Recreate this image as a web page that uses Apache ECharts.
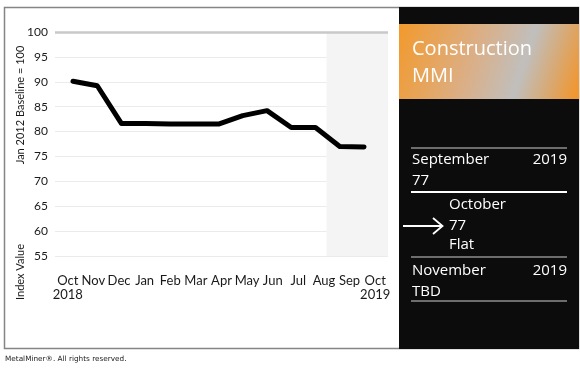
<!DOCTYPE html>
<html>
<head>
<meta charset="utf-8">
<script src="https://cdn.jsdelivr.net/npm/echarts@6/dist/echarts.min.js"></script>
<style>
html,body{margin:0;padding:0;background:#fff;}
#chart{width:580px;height:369px;}
</style>
</head>
<body>
<div id="chart"></div>
<script>
// ---- data ----
const months = ['Oct\n2018','Nov','Dec','Jan','Feb','Mar','Apr','May','Jun','Jul','Aug','Sep','Oct\n2019'];
const indexValues = [90.1, 89.2, 81.6, 81.6, 81.5, 81.5, 81.5, 83.2, 84.2, 80.8, 80.8, 77.0, 76.9];
const yMin = 55, yMax = 100, yStep = 5;
const baselineValue = 100;
const forecastStart = 10.6; // in month-band units
const yAxisTitles = ['Jan 2012 Baseline = 100', 'Index Value'];
const footerText = 'MetalMiner\u00AE. All rights reserved.';
const panelTitle = ['Construction', 'MMI'];
const prevMonth = ['September', '2019', '77'];
const curMonth = ['October', '77', 'Flat'];
const nextMonth = ['November', '2019', 'TBD'];

const chart = echarts.init(document.getElementById('chart'), null, {renderer: 'canvas'});
const white = '#ffffff';
const panelFont = '"Open Sans", sans-serif';
function ptext(x, y, t, align, size) {
  return {type: 'text', x: x, y: y, silent: true,
    style: {text: t, fill: white, font: (size || 15) + 'px ' + panelFont, textAlign: align || 'left', textVerticalAlign: 'middle'}};
}
function hline(x1, x2, y, color, w) {
  return {type: 'line', silent: true, shape: {x1: x1, y1: y, x2: x2, y2: y}, style: {stroke: color, lineWidth: w}};
}

const option = {
  animation: false,
  backgroundColor: '#ffffff',
  grid: [
    {left: 55, right: 192, top: 32, bottom: 113},
    {left: 73, right: 216, top: 32, bottom: 113}
  ],
  xAxis: [
    {type: 'category', gridIndex: 0, data: months, boundaryGap: true,
     axisLine: {show: false}, axisTick: {show: false}, splitLine: {show: false},
     axisLabel: {interval: 0, margin: 18, color: '#1a1a1a', fontSize: 13, lineHeight: 14, fontFamily: 'Lato', hideOverlap: false}},
    {type: 'value', gridIndex: 0, min: 0, max: months.length, show: false, splitLine: {show: false}},
    {type: 'category', gridIndex: 1, data: months, boundaryGap: false, show: false}
  ],
  yAxis: [
    {type: 'value', gridIndex: 0, min: yMin, max: yMax, interval: yStep,
     axisLine: {show: false}, axisTick: {show: false},
     axisLabel: {margin: 7, color: '#1a1a1a', fontSize: 12, fontFamily: 'Lato'},
     splitLine: {show: true, lineStyle: {color: '#ebebeb', width: 1}}},
    {type: 'value', gridIndex: 1, min: yMin, max: yMax, show: false, splitLine: {show: false}}
  ],
  series: [
    {type: 'line', xAxisIndex: 1, yAxisIndex: 0, data: [], silent: true, z: 1,
     markArea: {silent: true, itemStyle: {color: '#f4f4f4'},
       data: [[{xAxis: forecastStart, yAxis: yMax}, {xAxis: months.length, yAxis: yMin}]]},
     markLine: {silent: true, symbol: ['none', 'none'], label: {show: false},
       lineStyle: {color: '#c9c9c9', width: 2.5, type: 'solid'},
       data: [{yAxis: baselineValue}]}},
    {type: 'line', xAxisIndex: 2, yAxisIndex: 1, data: indexValues, showSymbol: false, z: 3,
     lineStyle: {color: '#000000', width: 5, cap: 'round', join: 'round'}}
  ],
  graphic: [
    {type: 'rect', silent: true, shape: {x: 4.5, y: 7.5, width: 574, height: 341}, style: {fill: 'none', stroke: '#858585', lineWidth: 1.5}},
    {type: 'rect', silent: true, shape: {x: 399, y: 7, width: 180, height: 342}, style: {fill: '#0c0c0c'}},
    {type: 'rect', silent: true, shape: {x: 399, y: 24, width: 180, height: 75},
     style: {fill: new echarts.graphic.LinearGradient(0, 0.1, 1, 0.9, [
       {offset: 0, color: '#f29a2e'},
       {offset: 0.4, color: '#dcae84'},
       {offset: 0.68, color: '#c0bfbd'},
       {offset: 0.85, color: '#d9a870'},
       {offset: 1, color: '#f3952a'}])}},
    ptext(412, 49, panelTitle[0], 'left', 20),
    ptext(412, 76, panelTitle[1], 'left', 20),
    hline(411, 567, 148, '#8e8e8e', 1.5),
    ptext(412, 160, prevMonth[0]),
    ptext(567, 160, prevMonth[1], 'right'),
    ptext(412, 181, prevMonth[2]),
    hline(411, 567, 192, '#ffffff', 2),
    ptext(449, 205, curMonth[0]),
    ptext(449, 226, curMonth[1]),
    ptext(449, 245, curMonth[2]),
    hline(403, 442, 226, '#ffffff', 1.8),
    {type: 'polyline', silent: true, shape: {points: [[433, 218], [442.5, 226], [433, 234]]}, style: {stroke: white, fill: 'none', lineWidth: 1.8}},
    hline(411, 567, 257, '#8e8e8e', 1.5),
    ptext(412, 271, nextMonth[0]),
    ptext(567, 271, nextMonth[1], 'right'),
    ptext(412, 292, nextMonth[2]),
    hline(411, 567, 301, '#8e8e8e', 1.5),
    {type: 'text', silent: true, x: 20, y: 105, rotation: Math.PI / 2,
     style: {text: yAxisTitles[0], fill: '#1a1a1a', font: '11px Lato', textAlign: 'center', textVerticalAlign: 'middle'}},
    {type: 'text', silent: true, x: 20, y: 272, rotation: Math.PI / 2,
     style: {text: yAxisTitles[1], fill: '#1a1a1a', font: '11px Lato', textAlign: 'center', textVerticalAlign: 'middle'}},
    {type: 'text', silent: true, x: 5, y: 359,
     style: {text: footerText, fill: '#222', font: '7.3px "DejaVu Sans"', textAlign: 'left', textVerticalAlign: 'middle'}}
  ]
};
chart.setOption(option);
</script>
</body>
</html>
